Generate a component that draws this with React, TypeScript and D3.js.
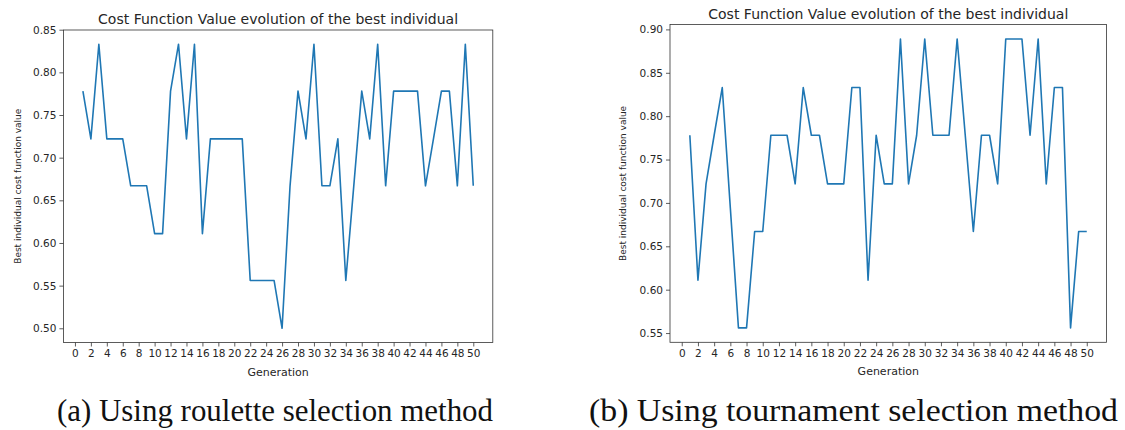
import React, { useEffect, useRef } from 'react';
import * as d3 from 'd3';

// generation index (x axis)
const generations = [
  1, 2, 3, 4, 5, 6, 7, 8, 9, 10, 11, 12, 13, 14, 15, 16, 17, 18, 19, 20, 21, 22, 23, 24, 25,
  26, 27, 28, 29, 30, 31, 32, 33, 34, 35, 36, 37, 38, 39, 40, 41, 42, 43, 44, 45, 46, 47, 48, 49, 50,
];

// best individual cost, roulette selection
const rouletteCost = [
  0.778, 0.722, 0.833, 0.722, 0.722, 0.722, 0.667, 0.667, 0.667, 0.611,
  0.611, 0.778, 0.833, 0.722, 0.833, 0.611, 0.722, 0.722, 0.722, 0.722,
  0.722, 0.556, 0.556, 0.556, 0.556, 0.5, 0.667, 0.778, 0.722, 0.833,
  0.667, 0.667, 0.722, 0.556, 0.667, 0.778, 0.722, 0.833, 0.667, 0.778,
  0.778, 0.778, 0.778, 0.667, 0.722, 0.778, 0.778, 0.667, 0.833, 0.667,
];

// best individual cost, tournament selection
const tournamentCost = [
  0.778, 0.611, 0.722, 0.778, 0.833, 0.694, 0.556, 0.556, 0.667, 0.667,
  0.778, 0.778, 0.778, 0.722, 0.833, 0.778, 0.778, 0.722, 0.722, 0.722,
  0.833, 0.833, 0.611, 0.778, 0.722, 0.722, 0.889, 0.722, 0.778, 0.889,
  0.778, 0.778, 0.778, 0.889, 0.778, 0.667, 0.778, 0.778, 0.722, 0.889,
  0.889, 0.889, 0.778, 0.889, 0.722, 0.833, 0.833, 0.556, 0.667, 0.667,
];

const xTicks = [0, 2, 4, 6, 8, 10, 12, 14, 16, 18, 20, 22, 24, 26, 28, 30, 32, 34, 36, 38, 40, 42, 44, 46, 48, 50];
const rouletteYTicks = [0.5, 0.55, 0.6, 0.65, 0.7, 0.75, 0.8, 0.85];
const tournamentYTicks = [0.55, 0.6, 0.65, 0.7, 0.75, 0.8, 0.85, 0.9];

const titleText = 'Cost Function Value evolution of the best individual';
const xLabelText = 'Generation';
const yLabelText = 'Best individual cost function value';
const captions = ['(a) Using roulette selection method', '(b) Using tournament selection method'];

const FONT = '"DejaVu Sans", sans-serif';
const TEXT = '#262626';

type Box = { left: number; right: number; top: number; bottom: number };

function Panel({ box, values, yTicks, yLabelX }: { box: Box; values: number[]; yTicks: number[]; yLabelX: number }) {
  const ref = useRef<SVGGElement>(null);

  useEffect(() => {
    const g = d3.select(ref.current);
    g.selectAll('*').remove();

    // matplotlib style 5% margins
    const xExt = d3.extent(generations) as [number, number];
    const yExt = d3.extent(values) as [number, number];
    const xPad = (xExt[1] - xExt[0]) * 0.05;
    const yPad = (yExt[1] - yExt[0]) * 0.05;

    const x = d3.scaleLinear().domain([xExt[0] - xPad, xExt[1] + xPad]).range([box.left, box.right]);
    const y = d3.scaleLinear().domain([yExt[0] - yPad, yExt[1] + yPad]).range([box.bottom, box.top]);

    const xAxis = g.append('g')
      .attr('transform', `translate(0,${box.bottom})`)
      .call(d3.axisBottom(x).tickValues(xTicks).tickSize(4).tickPadding(3).tickFormat(d3.format('d')));
    const yAxis = g.append('g')
      .attr('transform', `translate(${box.left},0)`)
      .call(d3.axisLeft(y).tickValues(yTicks).tickSize(4).tickPadding(3).tickFormat(d3.format('.2f')));

    [xAxis, yAxis].forEach((a) => {
      a.select('.domain').remove();
      a.selectAll('line').attr('stroke', '#333').attr('stroke-width', 0.8);
      a.selectAll('text').attr('fill', TEXT).style('font-family', FONT).style('font-size', '10.5px');
    });

    // frame
    g.append('rect')
      .attr('x', box.left).attr('y', box.top)
      .attr('width', box.right - box.left).attr('height', box.bottom - box.top)
      .attr('fill', 'none').attr('stroke', '#333').attr('stroke-width', 0.8);

    const line = d3.line<number>()
      .x((_, i) => x(generations[i]))
      .y((d) => y(d));

    g.append('path')
      .datum(values)
      .attr('d', line)
      .attr('fill', 'none')
      .attr('stroke', '#1f77b4')
      .attr('stroke-width', 1.6)
      .attr('stroke-linejoin', 'round');

    const cx = (box.left + box.right) / 2;
    g.append('text')
      .attr('x', cx).attr('y', box.top - 6)
      .attr('text-anchor', 'middle')
      .attr('fill', TEXT)
      .style('font-family', FONT).style('font-size', '14px')
      .text(titleText);

    g.append('text')
      .attr('x', cx).attr('y', box.bottom + 33)
      .attr('text-anchor', 'middle')
      .attr('fill', TEXT)
      .style('font-family', FONT).style('font-size', '11px')
      .text(xLabelText);

    g.append('text')
      .attr('transform', `translate(${yLabelX},${(box.top + box.bottom) / 2}) rotate(-90)`)
      .attr('text-anchor', 'middle')
      .attr('dy', '0.35em')
      .attr('fill', TEXT)
      .style('font-family', FONT).style('font-size', '9px')
      .text(yLabelText);
  }, [box, values, yTicks, yLabelX]);

  return <g ref={ref} />;
}

const leftBox = { left: 63.4, right: 492.8, top: 30, bottom: 342.5 };
const rightBox = { left: 670, right: 1106.6, top: 24.5, bottom: 342.3 };

const captionStyle = { fontFamily: '"Liberation Serif", serif', fontSize: 31 };

export default function App() {
  return (
    <svg width={1125} height={430} style={{ position: 'absolute', left: 0, top: 0, background: '#fff' }}>
      <Panel box={leftBox} values={rouletteCost} yTicks={rouletteYTicks} yLabelX={18} />
      <Panel box={rightBox} values={tournamentCost} yTicks={tournamentYTicks} yLabelX={623} />
      <text x={57} y={421} textLength={436} lengthAdjust="spacingAndGlyphs" fill="#111" style={captionStyle}>
        {captions[0]}
      </text>
      <text x={589} y={421} textLength={529} lengthAdjust="spacingAndGlyphs" fill="#111" style={captionStyle}>
        {captions[1]}
      </text>
    </svg>
  );
}
